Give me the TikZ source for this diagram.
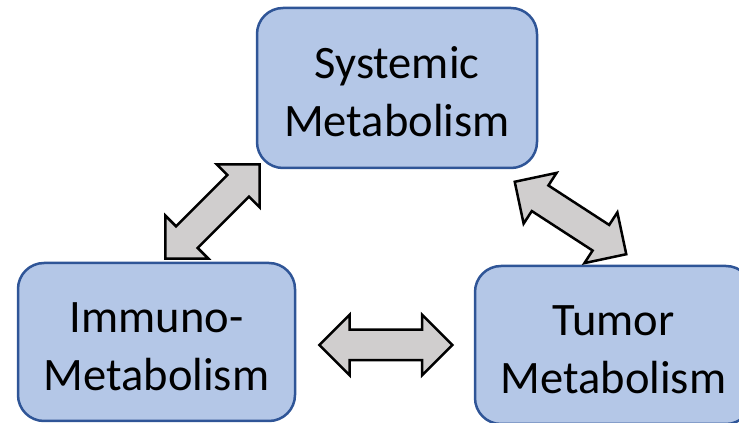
\documentclass[tikz,border=0pt]{standalone}
\usepackage{fontspec}
\setmainfont{Carlito}
\usetikzlibrary{shapes.arrows, positioning}
\definecolor{boxfill}{HTML}{B4C7E7}
\definecolor{boxline}{HTML}{2F5597}
\definecolor{arrowgray}{HTML}{D0CECE}
\tikzset{
  metabox/.style = {draw = boxline, fill = boxfill, line width = 2.5pt, rounded corners = 26pt,
                    align = center, inner sep = 0pt, text height = 97pt,
                    font = \fontsize{46.5}{58}\selectfont},
  exchange/.style = {draw, fill = arrowgray, line width = 2.5pt, shape = double arrow,
                     double arrow tip angle = 90, double arrow head extend = 15pt,
                     inner xsep = 0pt, inner ysep = 14pt, minimum height = 133pt}
}

\begin{document}
\begin{tikzpicture}[x = 1pt, y = 1pt]
  \useasboundingbox (0, 0) rectangle (739, 423);
  \clip (0, 0) rectangle (739, 423);

  \node [metabox, minimum width = 280pt, minimum height = 160pt] (systemic) at (397, 335) {Systemic\\Metabolism};
  \node [metabox, minimum width = 277pt, minimum height = 158pt] (immuno) at (156.5, 81) {Immuno-\\Metabolism};
  \node [metabox, minimum width = 277pt, minimum height = 158pt] (tumor) at (613.5, 78) {Tumor\\Metabolism};

  % two-way arrows between the boxes
  \node [exchange, rotate = 45] (sysimm) at (212.5, 211.5) {};
  \node [exchange, rotate = -33] (systum) at (570.5, 205) {};
  \node [exchange] (immtum) at (385.8, 78) {};
\end{tikzpicture}
\end{document}
